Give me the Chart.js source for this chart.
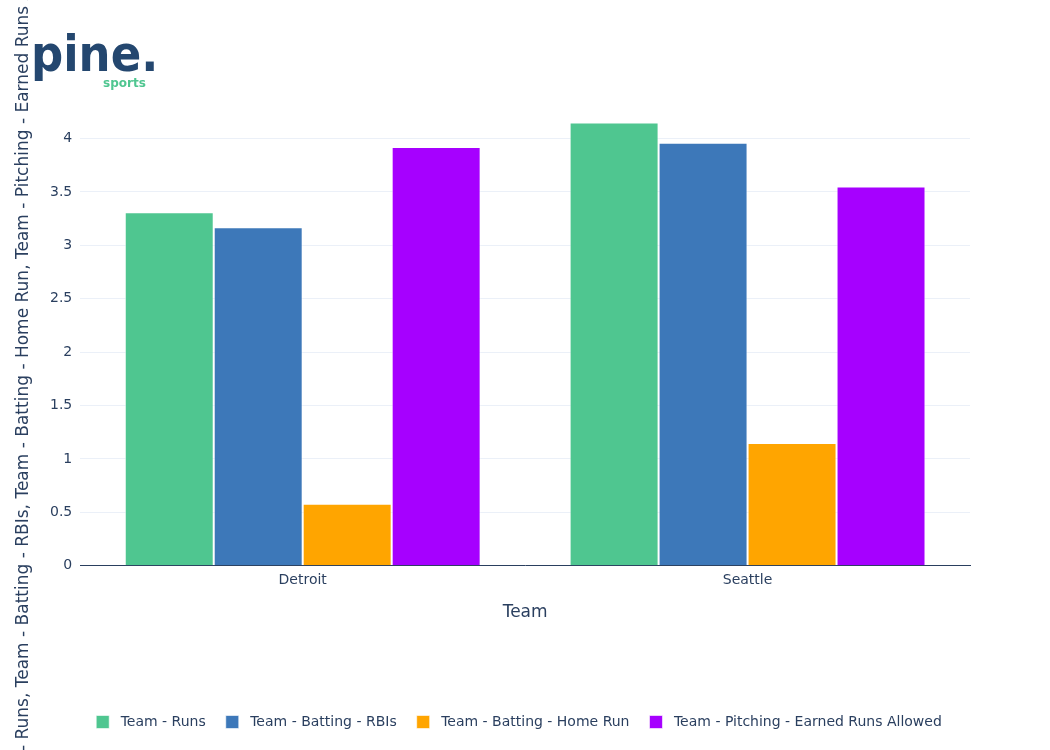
<!DOCTYPE html>
<html>
<head>
<meta charset="utf-8">
<script src="https://cdn.jsdelivr.net/npm/chart.js@4"></script>
<style>
  html, body { margin: 0; padding: 0; background: #fff; }
  #wrap { width: 1050px; height: 750px; position: relative; }
</style>
</head>
<body>
<div id="wrap"><canvas id="chart" width="1050" height="750"></canvas></div>
<script>
// data
const teams = ["Detroit", "Seattle"];
const runs = [3.31, 4.15];
const rbis = [3.17, 3.96];
const homeRuns = [0.58, 1.15];
const earnedRunsAllowed = [3.92, 3.55];

const seriesNames = ["Team - Runs", "Team - Batting - RBIs", "Team - Batting - Home Run", "Team - Pitching - Earned Runs Allowed"];
const seriesColors = ["#4fc690", "#3d78b9", "#ffa500", "#a600ff"];
const yTitle = "Team - Runs, Team - Batting - RBIs, Team - Batting - Home Run, Team - Pitching - Earned Runs Allowed";

const fontFamily = "'DejaVu Sans', sans-serif";
const textColor = "#2a3f5f";

// y title and logo drawn by hand so they sit where the original puts them
const extras = {
  id: "extras",
  afterLayout(chart) {
    // legend in the original is centred a bit right of the canvas middle
    chart.legend.left += 13;
    chart.legend.right += 13;
  },
  afterDraw(chart) {
    const ctx = chart.ctx;
    ctx.save();
    // the title is longer than the canvas; size it so the visible part
    // ("- Runs ... Earned Runs") spans the same length as in the original
    ctx.font = "16px " + fontFamily;
    const pre = ctx.measureText("Team ").width;
    const mid = ctx.measureText("- Runs, Team - Batting - RBIs, Team - Batting - Home Run, Team - Pitching - Earned Runs").width;
    const size = 16 * 746 / mid;
    ctx.font = size + "px " + fontFamily;
    ctx.translate(24, 751 + pre * size / 16);
    ctx.rotate(-Math.PI / 2);
    ctx.fillStyle = textColor;
    ctx.textAlign = "left";
    ctx.textBaseline = "middle";
    ctx.fillText(yTitle, 0, 0);
    ctx.restore();

    // logo
    ctx.save();
    ctx.fillStyle = "#24476f";
    ctx.font = "bold 50px 'DejaVu Sans Condensed', " + fontFamily;
    ctx.textBaseline = "alphabetic";
    ctx.fillText("pine.", 31, 71);
    ctx.fillStyle = "#4fc690";
    ctx.font = "bold 12px " + fontFamily;
    ctx.fillText("sports", 103, 87);
    ctx.restore();
  }
};

const datasets = [runs, rbis, homeRuns, earnedRunsAllowed].map(function (vals, i) {
  return {
    label: seriesNames[i],
    data: vals,
    backgroundColor: seriesColors[i],
    borderColor: "rgba(255,255,255,0.6)",
    borderWidth: 1,
    borderSkipped: "bottom",
    barPercentage: 1.0,
    categoryPercentage: 0.8
  };
});

new Chart(document.getElementById("chart"), {
  type: "bar",
  data: { labels: teams, datasets: datasets },
  plugins: [extras],
  options: {
    responsive: false,
    animation: false,
    layout: { padding: { left: 42, right: 80, top: 100, bottom: 11 } },
    scales: {
      x: {
        grid: { display: false, drawTicks: false },
        border: { display: true, color: "#2a3f5f", width: 1 },
        ticks: { color: textColor, font: { family: fontFamily, size: 14 }, padding: 6 },
        title: {
          display: true,
          text: "Team",
          color: textColor,
          font: { family: fontFamily, size: 17 },
          padding: { top: 8, bottom: 72 }
        }
      },
      y: {
        min: 0,
        max: 4.36,
        afterBuildTicks: function (axis) {
          axis.ticks = axis.ticks.filter(function (t) { return t.value <= 4.0001; });
        },
        grid: { color: "#ebf0f8", drawTicks: false },
        border: { display: false },
        ticks: {
          stepSize: 0.5,
          color: textColor,
          font: { family: fontFamily, size: 14 },
          padding: 8,
          callback: function (v) { return String(Number(v)); }
        }
      }
    },
    plugins: {
      legend: {
        position: "bottom",
        labels: {
          color: textColor,
          font: { family: fontFamily, size: 14 },
          boxWidth: 13,
          boxHeight: 13,
          padding: 20,
          generateLabels: function (chart) {
            return Chart.defaults.plugins.legend.labels.generateLabels(chart).map(function (l) {
              l.text = " " + l.text;
              return l;
            });
          }
        }
      },
      tooltip: { enabled: false }
    }
  }
});
</script>
</body>
</html>
